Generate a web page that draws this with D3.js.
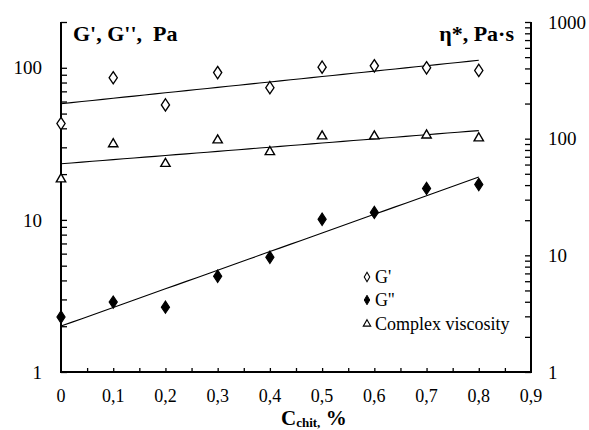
<!DOCTYPE html>
<html>
<head>
<meta charset="utf-8">
<script src="https://cdn.jsdelivr.net/npm/d3@7"></script>
<style>
html,body{margin:0;padding:0;background:#fff;}
svg{display:block;}
</style>
</head>
<body>
<svg id="chart" width="589" height="430"></svg>
<script>
// ---- data ----
const concentrations = [0, 0.1, 0.2, 0.3, 0.4, 0.5, 0.6, 0.7, 0.8];
const gPrime = [43, 86, 57, 93, 74, 101, 103, 100, 96];          // G', Pa (left axis)
const gDoublePrime = [2.3, 2.88, 2.67, 4.26, 5.68, 10.1, 11.2, 16.1, 17.1]; // G'', Pa (left axis)
const complexViscosity = [45, 90, 61, 97, 77, 105, 105, 107, 101]; // eta*, Pa·s (right axis)
const xTickValues = [0, 0.1, 0.2, 0.3, 0.4, 0.5, 0.6, 0.7, 0.8, 0.9];
const xTickLabels = ["0", "0,1", "0,2", "0,3", "0,4", "0,5", "0,6", "0,7", "0,8", "0,9"];
const leftTickLabels = [1, 10, 100];
const rightTickLabels = [1, 10, 100, 1000];
const legendLabels = ["G'", "G''", "Complex viscosity"];

const SERIF = "'Liberation Serif', 'Times New Roman', serif";

// ---- layout ----
const svg = d3.select("#chart");
const L = 61, R = 531, T = 22, B = 372;

const x = d3.scaleLinear().domain([0, 0.9]).range([L, R]);
const yL = d3.scaleLog().domain([1, 200]).range([B, T]);
const yR = d3.scaleLog().domain([1, 1000]).range([B, T]);

// exponential trend (least squares on log10)
function expFit(xs, ys) {
  const ly = ys.map(v => Math.log10(v));
  const mx = d3.mean(xs), my = d3.mean(ly);
  const sxy = d3.sum(xs, (v, i) => (v - mx) * (ly[i] - my));
  const sxx = d3.sum(xs, v => (v - mx) * (v - mx));
  const b = sxy / sxx, a = my - b * mx;
  return t => Math.pow(10, a + b * t);
}
const xs0 = d3.min(concentrations), xs1 = d3.max(concentrations);
const trendPts = d3.range(0, 41).map(i => xs0 + (xs1 - xs0) * i / 40);

function drawTrend(vals, yScale) {
  const f = expFit(concentrations, vals);
  svg.append("path")
    .attr("d", d3.line().x(d => x(d)).y(d => yScale(f(d)))(trendPts))
    .attr("fill", "none").attr("stroke", "#000").attr("stroke-width", 1.1);
}
drawTrend(gPrime, yL);
drawTrend(gDoublePrime, yL);
drawTrend(complexViscosity, yR);

// ---- axes ----
const axisG = svg.append("g");
const leftAxis = d3.axisRight(yL)
  .tickValues(d3.range(1, 10).concat(d3.range(10, 100, 10), [100, 200]))
  .tickSize(6).tickFormat("");
axisG.append("g").attr("transform", `translate(${L},0)`).call(leftAxis)
  .call(g => g.select(".domain").remove())
  .call(g => g.selectAll("line").attr("stroke", "#000").attr("stroke-width", 1.3));
svg.append("g").selectAll("text").data(leftTickLabels).join("text")
  .attr("x", L - 19).attr("y", d => yL(d)).attr("dy", "0.35em")
  .attr("text-anchor", "end").style("font-family", SERIF).style("font-size", "19px").text(d => d);

const rightAxis = d3.axisLeft(yR)
  .tickValues(d3.range(1, 10).concat(d3.range(10, 100, 10), d3.range(100, 1000, 100), [1000]))
  .tickSize(6).tickFormat("");
axisG.append("g").attr("transform", `translate(${R},0)`).call(rightAxis)
  .call(g => g.select(".domain").remove())
  .call(g => g.selectAll("line").attr("stroke", "#000").attr("stroke-width", 1.3));
svg.append("g").selectAll("text").data(rightTickLabels).join("text")
  .attr("x", R + 17).attr("y", d => yR(d)).attr("dy", "0.35em")
  .attr("text-anchor", "start").style("font-family", SERIF).style("font-size", "19px").text(d => d);

const bottomAxis = d3.axisTop(x)
  .tickValues(d3.range(1, 18).map(i => i * 0.05))
  .tickSize(4).tickFormat("");
axisG.append("g").attr("transform", `translate(0,${B})`).call(bottomAxis)
  .call(g => g.select(".domain").remove())
  .call(g => g.selectAll("line").attr("stroke", "#000").attr("stroke-width", 1.3));
svg.append("g").selectAll("text").data(xTickValues).join("text")
  .attr("x", d => x(d)).attr("y", 402)
  .attr("text-anchor", "middle").style("font-family", SERIF).style("font-size", "18px")
  .text((d, i) => xTickLabels[i]);

// axis lines
svg.append("path")
  .attr("d", `M${L},${T}V${B}H${R}V${T}`)
  .attr("fill", "none").attr("stroke", "#000").attr("stroke-width", 2);

// ---- markers ----
const diamond = d3.symbol().type(d3.symbolDiamond).size(44);
const triangle = d3.symbol().type(d3.symbolTriangle).size(38);

svg.append("g").selectAll("path").data(gPrime).join("path")
  .attr("d", diamond)
  .attr("transform", (d, i) => `translate(${x(concentrations[i])},${yL(d)}) scale(1.15,1)`)
  .attr("fill", "#fff").attr("stroke", "#000").attr("stroke-width", 1.2);

svg.append("g").selectAll("path").data(gDoublePrime).join("path")
  .attr("d", diamond)
  .attr("transform", (d, i) => `translate(${x(concentrations[i])},${yL(d)}) scale(1.15,1)`)
  .attr("fill", "#000").attr("stroke", "#000").attr("stroke-width", 1);

svg.append("g").selectAll("path").data(complexViscosity).join("path")
  .attr("d", triangle)
  .attr("transform", (d, i) => `translate(${x(concentrations[i])},${yR(d)})`)
  .attr("fill", "#fff").attr("stroke", "#000").attr("stroke-width", 1.4);

// ---- legend ----
const legendY = [277, 300, 324];
const lg = svg.append("g");
const smallDiamond = d3.symbol().type(d3.symbolDiamond).size(26);
const smallTri = d3.symbol().type(d3.symbolTriangle).size(24);
lg.append("path").attr("d", smallDiamond).attr("transform", `translate(367,${legendY[0]})`)
  .attr("fill", "#fff").attr("stroke", "#000").attr("stroke-width", 1.1);
lg.append("path").attr("d", smallDiamond).attr("transform", `translate(367,${legendY[1]})`)
  .attr("fill", "#000").attr("stroke", "#000").attr("stroke-width", 1);
lg.append("path").attr("d", smallTri).attr("transform", `translate(367,${legendY[2]})`)
  .attr("fill", "#fff").attr("stroke", "#000").attr("stroke-width", 1.1);
lg.selectAll("text").data(legendLabels).join("text")
  .attr("x", 375).attr("y", (d, i) => legendY[i]).attr("dy", "0.35em")
  .style("font-family", SERIF).style("font-size", "18px").text(d => d);

// ---- titles ----
svg.append("text").attr("x", 73).attr("y", 41)
  .style("font-family", SERIF).style("font-size", "22px").style("font-weight", "bold").style("white-space", "pre")
  .text("G', G'',  Pa");
svg.append("text").attr("x", 514).attr("y", 41).attr("text-anchor", "end")
  .style("font-family", SERIF).style("font-size", "22px").style("font-weight", "bold")
  .text("η*, Pa·s");

const xt = svg.append("text").attr("x", 281).attr("y", 425)
  .style("font-family", SERIF).style("font-size", "21px").style("font-weight", "bold").style("white-space", "pre");
xt.append("tspan").text("C");
xt.append("tspan").attr("dy", 2).style("font-size", "13px").text("chit,");
xt.append("tspan").attr("dy", -2).text(" %");
</script>
</body>
</html>
